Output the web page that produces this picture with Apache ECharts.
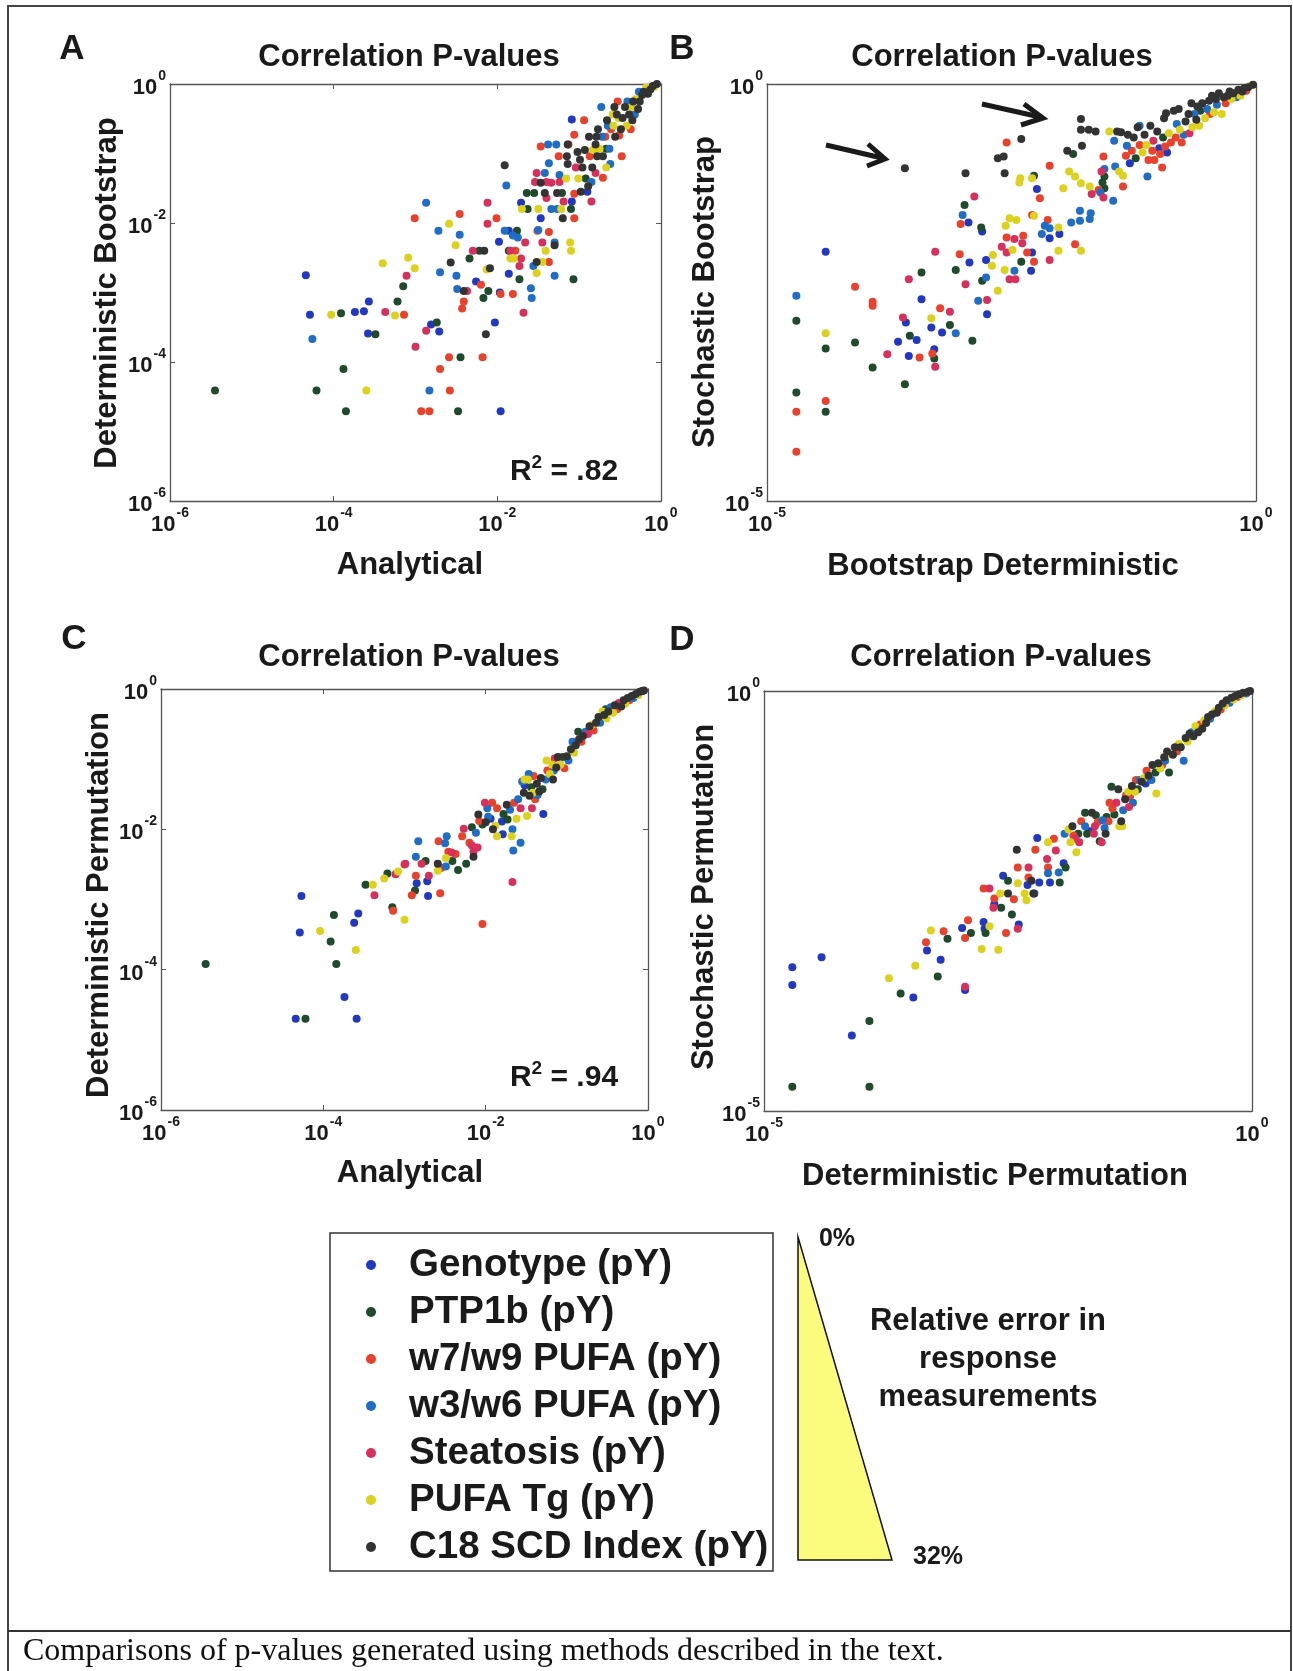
<!DOCTYPE html>
<html><head><meta charset="utf-8">
<script src="https://cdn.jsdelivr.net/npm/echarts@6/dist/echarts.min.js"></script>
<style>html,body{margin:0;padding:0;background:#fff}#c{width:1293px;height:1671px}</style>
</head><body><div id="c"></div>
<script>
// ---- categories / colours ----
const seriesNames = ['Genotype (pY)','PTP1b (pY)','w7/w9 PUFA (pY)','w3/w6 PUFA (pY)','Steatosis (pY)','PUFA Tg (pY)','C18 SCD Index (pY)'];
const seriesColors = ['#2338c0','#1f4a2c','#e8422c','#1f6dc4','#d8305c','#dcd21e','#333333'];
const panelTitles = ['Correlation P-values','Correlation P-values','Correlation P-values','Correlation P-values'];
const xAxisNames = ['Analytical','Bootstrap Deterministic','Analytical','Deterministic Permutation'];
const yAxisNames = ['Deterministic Bootstrap','Stochastic Bootstrap','Deterministic Permutation','Stochastic Permutation'];
const tickExpAC = [-6,-4,-2,0];
const tickExpBD = [-5,0];
const r2Labels = ['.82', null, '.94', null];

// ---- data: [log10(x p-value), log10(y p-value)] ----
// Panel A: Analytical vs Deterministic Bootstrap
const A_genotype = [[-4.34,-2.75],[-4.29,-3.32],[-3.74,-3.28],[-3.63,-3.27],[-3.57,-3.13],[-3.58,-3.59],[-2.81,-3.46],[-2.71,-3.56],[-2.26,-2.84],[-2.03,-3.43],[-1.98,-2.27],[-1.97,-3.00],[-1.96,-4.71],[-1.86,-2.11],[-1.86,-2.73],[-1.71,-1.71],[-1.47,-1.93],[-1.09,-1.69],[-1.09,-0.51],[-0.90,-1.55]];
const A_ptp1b = [[-5.45,-4.41],[-4.21,-4.41],[-3.91,-3.30],[-3.88,-4.10],[-3.85,-4.71],[-3.49,-3.60],[-3.22,-3.13],[-3.15,-2.91],[-2.74,-3.43],[-2.48,-4.71],[-2.45,-3.93],[-2.34,-2.51],[-2.22,-2.40],[-2.17,-3.08],[-2.11,-2.98],[-1.86,-2.40],[-1.76,-2.11],[-1.73,-2.81],[-1.64,-1.57],[-1.63,-1.80],[-1.55,-1.57],[-1.21,-1.57],[-1.10,-1.80],[-1.07,-2.81],[-0.92,-1.36],[-0.67,-0.93]];
const A_w7w9 = [[-3.14,-3.32],[-3.01,-1.93],[-2.93,-4.71],[-2.83,-4.71],[-2.70,-4.10],[-2.59,-3.93],[-2.58,-4.41],[-2.46,-1.87],[-2.41,-3.13],[-2.43,-3.23],[-2.20,-2.89],[-2.18,-3.93],[-2.01,-1.93],[-1.96,-3.02],[-1.81,-3.02],[-1.78,-2.40],[-1.51,-2.11],[-1.47,-0.90],[-1.37,-2.56],[-1.37,-2.13],[-1.25,-1.04],[-1.13,-0.87],[-1.06,-1.93],[-1.06,-0.73],[-1.06,-1.58],[-0.94,-0.52],[-0.87,-1.04],[-0.71,-1.35],[-0.68,-0.76],[-0.61,-0.65],[-0.53,-0.25],[-0.51,-0.74],[-0.48,-1.04],[-0.37,-0.65]];
const A_w3w6 = [[-4.26,-3.67],[-2.87,-1.71],[-2.83,-4.41],[-2.72,-2.11],[-2.70,-2.71],[-2.50,-2.76],[-2.49,-2.95],[-2.46,-2.17],[-1.89,-1.46],[-1.91,-2.11],[-1.81,-2.18],[-1.75,-2.21],[-1.59,-2.94],[-1.58,-3.08],[-1.56,-2.62],[-1.50,-2.10],[-1.42,-1.28],[-1.38,-0.87],[-1.37,-1.14],[-1.34,-1.80],[-1.30,-2.28],[-1.30,-2.76],[-1.28,-0.87],[-1.27,-1.80],[-1.24,-1.31],[-0.85,-1.41],[-0.73,-0.33],[-0.72,-0.76],[-0.65,-0.60],[-0.63,-0.93],[-0.62,-1.15],[-0.41,-0.25],[-0.32,-0.44],[-0.27,-0.11]];
const A_steatosis = [[-3.37,-3.28],[-3.11,-2.76],[-3.00,-3.78],[-2.87,-3.55],[-2.37,-2.98],[-2.30,-2.40],[-2.12,-1.71],[-2.12,-2.01],[-1.84,-2.40],[-1.73,-2.62],[-1.71,-2.51],[-1.68,-3.29],[-1.66,-2.28],[-1.54,-1.41],[-1.52,-1.28],[-1.45,-2.28],[-1.40,-1.41],[-1.40,-1.64],[-1.34,-1.42],[-1.24,-1.41],[-1.19,-1.69],[-1.04,-1.20],[-0.85,-1.69],[-0.80,-1.28]];
const A_pufaTg = [[-4.03,-3.32],[-3.60,-4.41],[-3.40,-2.58],[-3.25,-3.33],[-3.09,-2.50],[-3.01,-2.65],[-2.59,-2.01],[-2.51,-2.32],[-2.13,-2.67],[-1.84,-2.51],[-1.80,-2.51],[-1.70,-1.80],[-1.52,-2.72],[-1.50,-1.80],[-1.45,-2.56],[-1.41,-2.40],[-1.22,-1.80],[-1.16,-1.36],[-1.11,-2.28],[-1.10,-2.40],[-1.01,-1.36],[-0.83,-0.95],[-0.75,-0.93],[-0.67,-1.20],[-0.59,-0.44],[-0.58,-0.60],[-0.52,-0.49],[-0.42,-0.60],[-0.36,-0.33],[-0.31,-0.22],[-0.18,-0.05],[-0.08,-0.04]];
const A_c18 = [[-2.57,-2.57],[-2.41,-2.98],[-2.16,-2.40],[-2.14,-3.60],[-2.09,-2.65],[-1.91,-1.17],[-1.52,-2.56],[-1.47,-1.42],[-1.42,-1.57],[-1.30,-2.32],[-1.27,-1.57],[-1.20,-1.93],[-1.15,-1.04],[-1.14,-0.87],[-1.14,-1.15],[-1.02,-0.98],[-0.99,-1.09],[-0.98,-1.55],[-0.96,-1.20],[-0.93,-0.95],[-0.89,-1.47],[-0.88,-0.76],[-0.84,-1.20],[-0.80,-0.87],[-0.79,-0.76],[-0.78,-1.04],[-0.77,-0.65],[-0.71,-1.04],[-0.66,-0.52],[-0.57,-0.33],[-0.56,-0.76],[-0.54,-0.44],[-0.49,-0.65],[-0.47,-0.49],[-0.44,-0.33],[-0.39,-0.44],[-0.35,-0.52],[-0.34,-0.25],[-0.28,-0.36],[-0.26,-0.25],[-0.23,-0.16],[-0.21,-0.11],[-0.16,-0.14],[-0.13,-0.08],[-0.10,-0.03],[-0.05,0]];

// Panel B: Bootstrap Deterministic vs Stochastic Bootstrap
const B_genotype = [[-4.40,-2.01],[-3.66,-3.09],[-3.58,-2.86],[-3.55,-3.26],[-3.47,-3.07],[-3.42,-2.58],[-3.32,-2.92],[-3.29,-3.18],[-3.21,-2.98],[-2.94,-1.66],[-2.93,-2.14],[-2.80,-1.77],[-2.76,-2.11],[-2.75,-2.76],[-2.30,-2.24],[-2.29,-2.02],[-2.24,-1.26],[-2.11,-1.85],[-2.01,-1.80],[-1.29,-0.95],[-0.99,-0.77],[-0.91,-0.82]];
const B_ptp1b = [[-4.70,-2.84],[-4.70,-3.70],[-4.40,-3.17],[-4.40,-3.93],[-4.10,-3.10],[-3.92,-3.40],[-3.59,-3.60],[-3.54,-3.02],[-3.42,-2.26],[-3.29,-3.29],[-3.13,-2.89],[-3.07,-2.23],[-2.98,-1.45],[-2.90,-3.08],[-2.81,-1.72],[-2.80,-2.36],[-2.40,-2.13],[-2.27,-1.10],[-1.87,-0.84],[-1.57,-1.18],[-1.55,-1.25],[-1.55,-1.11],[-1.23,-0.89],[-0.95,-0.64],[-0.57,-0.32]];
const B_w7w9 = [[-4.70,-3.93],[-4.70,-4.41],[-4.40,-3.80],[-4.10,-2.43],[-3.92,-2.61],[-3.92,-2.66],[-3.44,-3.28],[-3.31,-3.23],[-3.23,-2.69],[-3.03,-2.04],[-3.02,-1.68],[-2.55,-1.84],[-2.55,-0.70],[-2.38,-1.82],[-2.34,-2.02],[-2.29,-1.57],[-2.27,-2.13],[-2.21,-1.37],[-2.13,-1.63],[-2.11,-0.98],[-1.85,-1.92],[-1.61,-1.27],[-1.56,-0.87],[-1.36,-1.23],[-1.33,-0.86],[-1.27,-0.80],[-1.19,-0.73],[-1.10,-0.91],[-1.06,-0.80],[-1.04,-0.91],[-0.98,-0.84],[-0.96,-1.00],[-0.93,-0.75],[-0.87,-0.70],[-0.82,-0.64],[-0.76,-0.70],[-0.47,-0.36],[-0.31,-0.23],[-0.10,-0.08]];
const B_w3w6 = [[-4.70,-2.54],[-3.07,-2.99],[-3.00,-1.57],[-2.84,-2.60],[-2.76,-2.32],[-2.47,-2.24],[-2.19,-1.80],[-2.16,-1.70],[-2.11,-1.73],[-1.89,-1.66],[-1.80,-1.52],[-1.80,-1.64],[-1.69,-1.55],[-1.70,-1.62],[-1.59,-1.30],[-1.55,-1.02],[-1.46,-1.40],[-1.45,-0.68],[-1.44,-0.99],[-1.32,-0.74],[-1.19,-0.50],[-1.11,-1.11],[-0.81,-0.48],[-0.74,-0.61],[-0.63,-0.36],[-0.50,-0.30],[-0.40,-0.25],[-0.20,-0.16]];
const B_steatosis = [[-3.77,-3.24],[-3.61,-2.80],[-3.55,-2.34],[-3.28,-3.39],[-3.28,-2.01],[-3.13,-2.73],[-2.97,-2.40],[-2.88,-1.35],[-2.75,-2.59],[-2.60,-1.95],[-2.55,-2.02],[-2.52,-2.34],[-2.47,-1.86],[-2.46,-2.34],[-2.39,-1.91],[-2.11,-2.11],[-1.68,-1.32],[-1.58,-1.05],[-1.56,-1.36],[-1.05,-0.68],[-0.68,-0.59]];
const B_pufaTg = [[-4.40,-2.99],[-3.32,-2.81],[-2.70,-2.18],[-2.69,-2.05],[-2.64,-2.48],[-2.57,-2.23],[-2.56,-1.70],[-2.52,-1.61],[-2.49,-1.99],[-2.45,-1.63],[-2.42,-1.18],[-2.41,-1.13],[-2.27,-1.58],[-2.29,-1.13],[-2.02,-1.72],[-2.02,-2.00],[-1.97,-1.25],[-1.91,-1.05],[-1.85,-1.11],[-1.79,-1.19],[-1.79,-2.00],[-1.70,-1.23],[-1.50,-0.57],[-1.40,-1.05],[-1.36,-1.10],[-1.16,-0.82],[-1.12,-0.73],[-0.89,-0.59],[-0.78,-0.55],[-0.65,-0.52],[-0.58,-0.50],[-0.52,-0.41],[-0.43,-0.34],[-0.35,-0.36],[-0.25,-0.18],[-0.16,-0.14],[-0.06,-0.02]];
const B_c18 = [[-3.59,-1.01],[-2.97,-1.07],[-2.64,-0.89],[-2.58,-0.87],[-2.57,-1.07],[-2.40,-0.66],[-1.93,-0.80],[-1.79,-0.42],[-1.79,-0.55],[-1.78,-0.74],[-1.71,-0.55],[-1.64,-0.57],[-1.42,-0.57],[-1.38,-0.58],[-1.31,-0.61],[-1.25,-0.64],[-1.21,-0.52],[-1.14,-0.61],[-1.08,-0.50],[-1.01,-0.57],[-0.94,-0.41],[-0.92,-0.35],[-0.84,-0.32],[-0.79,-0.30],[-0.72,-0.45],[-0.69,-0.36],[-0.66,-0.23],[-0.61,-0.43],[-0.60,-0.27],[-0.55,-0.23],[-0.48,-0.20],[-0.45,-0.14],[-0.41,-0.18],[-0.38,-0.11],[-0.33,-0.16],[-0.29,-0.14],[-0.27,-0.09],[-0.23,-0.11],[-0.18,-0.07],[-0.14,-0.09],[-0.12,-0.05],[-0.08,-0.04],[-0.03,-0.01]];

// Panel C: Analytical vs Deterministic Permutation
const C_genotype = [[-4.34,-4.70],[-4.29,-3.47],[-4.27,-2.95],[-3.74,-4.39],[-3.62,-3.33],[-3.59,-4.70],[-3.57,-3.20],[-2.85,-2.77],[-2.72,-2.74],[-2.71,-2.95],[-1.94,-1.85],[-1.80,-1.89],[-1.79,-2.07],[-1.52,-1.37],[-1.29,-1.78]];
const C_ptp1b = [[-5.45,-3.92],[-4.22,-4.70],[-3.91,-3.60],[-3.87,-3.22],[-3.84,-3.92],[-3.48,-2.79],[-3.21,-2.63],[-3.15,-3.11],[-2.87,-2.87],[-2.74,-2.45],[-2.41,-2.45],[-2.34,-2.58],[-2.24,-2.49],[-2.17,-1.97],[-2.04,-1.93],[-1.78,-1.78],[-1.73,-1.86],[-1.44,-1.40],[-1.30,-1.43],[-1.05,-0.97],[-0.86,-0.61],[-0.52,-0.29]];
const C_w7w9 = [[-3.14,-3.16],[-3.00,-2.50],[-2.91,-2.94],[-2.86,-2.66],[-2.58,-2.17],[-2.56,-2.91],[-2.55,-2.55],[-2.46,-2.32],[-2.37,-2.35],[-2.29,-2.10],[-2.20,-2.19],[-2.08,-1.88],[-2.04,-3.35],[-1.92,-1.62],[-1.86,-1.70],[-1.65,-1.62],[-1.41,-1.24],[-1.39,-1.57],[-1.24,-1.16],[-1.03,-1.13],[-0.82,-0.75],[-0.67,-0.59],[-0.38,-0.29],[-0.23,-0.16]];
const C_w3w6 = [[-2.86,-2.39],[-2.83,-2.17],[-2.50,-2.20],[-2.49,-2.53],[-2.48,-2.10],[-2.12,-2.05],[-1.98,-1.70],[-1.97,-1.82],[-1.70,-1.72],[-1.67,-2.00],[-1.66,-2.30],[-1.60,-1.57],[-1.57,-2.19],[-1.55,-1.32],[-1.47,-1.21],[-1.36,-1.51],[-1.26,-1.29],[-1.16,-1.16],[-0.98,-1.02],[-0.93,-0.75],[-0.77,-0.61],[-0.59,-0.48],[-0.46,-0.26],[-0.18,-0.13]];
const C_steatosis = [[-3.37,-2.94],[-3.11,-2.64],[-2.99,-2.49],[-2.79,-2.49],[-2.70,-2.66],[-2.42,-2.33],[-2.27,-1.99],[-2.17,-2.23],[-2.15,-2.32],[-2.10,-2.26],[-2.01,-1.62],[-1.67,-2.75],[-1.57,-1.70],[-1.43,-1.70],[-1.15,-0.99],[-0.74,-0.64],[-0.36,-0.20]];
const C_pufaTg = [[-4.04,-3.45],[-3.60,-3.72],[-3.39,-2.79],[-3.25,-2.70],[-3.08,-2.60],[-3.00,-3.29],[-2.59,-2.59],[-2.49,-2.41],[-1.88,-1.95],[-1.86,-2.10],[-1.68,-2.10],[-1.62,-1.85],[-1.52,-1.29],[-1.49,-1.81],[-1.48,-1.29],[-1.42,-1.48],[-1.25,-1.02],[-1.21,-1.21],[-1.18,-1.08],[-1.08,-1.08],[-0.91,-0.91],[-0.69,-0.51],[-0.56,-0.32],[-0.51,-0.42],[-0.43,-0.34],[-0.28,-0.21],[-0.12,-0.09]];
const C_c18 = [[-2.59,-2.49],[-2.15,-2.39],[-2.09,-1.79],[-2.00,-1.90],[-1.91,-2.00],[-1.74,-1.65],[-1.53,-1.48],[-1.46,-1.52],[-1.37,-1.35],[-1.34,-1.46],[-1.32,-1.27],[-1.17,-1.29],[-1.13,-1.12],[-1.11,-0.97],[-1.00,-0.96],[-0.95,-0.86],[-0.89,-0.80],[-0.85,-0.72],[-0.80,-0.67],[-0.72,-0.53],[-0.64,-0.48],[-0.61,-0.40],[-0.54,-0.37],[-0.49,-0.32],[-0.41,-0.23],[-0.33,-0.25],[-0.30,-0.16],[-0.25,-0.13],[-0.20,-0.10],[-0.15,-0.07],[-0.10,-0.04],[-0.07,-0.03],[-0.05,-0.02]];

// Panel D: Deterministic Permutation vs Stochastic Permutation
const D_genotype = [[-4.71,-3.29],[-4.71,-3.50],[-4.41,-3.17],[-4.10,-4.10],[-3.47,-3.65],[-3.33,-3.09],[-3.19,-3.20],[-2.97,-2.82],[-2.94,-3.56],[-2.75,-2.75],[-2.74,-2.83],[-2.64,-2.54],[-2.55,-2.20],[-2.39,-2.78],[-2.30,-2.31],[-2.23,-2.41],[-2.20,-1.75],[-2.18,-2.28],[-2.07,-2.28],[-1.93,-2.05],[-1.66,-1.67],[-1.09,-1.10]];
const D_ptp1b = [[-4.71,-4.71],[-3.92,-3.93],[-3.92,-4.71],[-3.60,-3.60],[-3.22,-3.40],[-3.12,-2.95],[-2.88,-2.88],[-2.73,-2.88],[-2.57,-2.58],[-2.50,-2.26],[-2.46,-2.66],[-1.97,-2.28],[-1.91,-2.10],[-1.78,-1.70],[-1.71,-1.45],[-1.69,-1.70],[-1.60,-1.48],[-1.56,-1.79],[-1.49,-1.50],[-1.44,-1.14],[-1.41,-1.47],[-1.17,-1.17],[-0.99,-0.97],[-0.85,-0.97]];
const D_w7w9 = [[-3.34,-2.99],[-3.16,-2.86],[-2.94,-2.94],[-2.91,-2.73],[-2.75,-2.35],[-2.64,-2.47],[-2.52,-2.88],[-2.44,-2.48],[-2.40,-2.10],[-2.29,-2.22],[-2.22,-1.89],[-2.09,-2.10],[-2.03,-1.76],[-1.83,-1.72],[-1.75,-1.55],[-1.58,-1.56],[-1.47,-1.55],[-1.46,-1.33],[-1.43,-1.40],[-1.29,-1.24],[-1.25,-1.26],[-1.19,-1.06],[-1.08,-0.95],[-0.92,-0.88],[-0.77,-0.72],[-0.53,-0.40],[-0.32,-0.22],[-0.15,-0.07]];
const D_w3w6 = [[-2.09,-2.17],[-1.98,-2.16],[-1.92,-1.70],[-1.71,-1.61],[-1.53,-1.54],[-1.51,-1.63],[-1.32,-1.42],[-1.22,-1.33],[-1.15,-1.06],[-1.03,-1.06],[-0.89,-0.83],[-0.70,-0.83],[-0.62,-0.49],[-0.43,-0.33],[-0.23,-0.14],[-0.06,-0.03]];
const D_steatosis = [[-2.94,-3.52],[-2.69,-2.35],[-2.65,-2.58],[-2.40,-2.83],[-2.29,-2.10],[-2.10,-2.00],[-2.01,-1.90],[-1.81,-1.76],[-1.77,-1.80],[-1.62,-1.70],[-1.61,-1.61],[-1.54,-1.80],[-1.39,-1.33],[-1.26,-1.38]];
const D_pufaTg = [[-3.72,-3.42],[-3.45,-3.27],[-3.29,-2.85],[-2.77,-3.07],[-2.69,-2.80],[-2.60,-3.08],[-2.58,-2.41],[-2.40,-2.29],[-2.33,-2.41],[-2.31,-2.49],[-2.09,-1.80],[-1.88,-1.65],[-1.86,-1.80],[-1.80,-1.92],[-1.36,-1.61],[-1.33,-1.61],[-1.27,-1.20],[-1.20,-1.20],[-1.11,-1.04],[-0.98,-1.22],[-0.94,-0.92],[-0.83,-0.75],[-0.75,-0.63],[-0.66,-0.60],[-0.58,-0.42],[-0.49,-0.35],[-0.38,-0.24],[-0.28,-0.17],[-0.19,-0.10],[-0.11,-0.05]];
const D_c18 = [[-2.50,-2.41],[-2.41,-1.89],[-2.26,-2.26],[-2.24,-2.41],[-1.84,-1.61],[-1.64,-1.45],[-1.50,-1.70],[-1.37,-1.17],[-1.34,-1.55],[-1.30,-1.29],[-1.23,-1.13],[-1.13,-1.08],[-1.06,-1.01],[-1.02,-0.88],[-0.96,-0.86],[-0.90,-0.79],[-0.87,-0.72],[-0.81,-0.76],[-0.79,-0.67],[-0.73,-0.67],[-0.68,-0.56],[-0.64,-0.51],[-0.60,-0.54],[-0.55,-0.49],[-0.51,-0.45],[-0.47,-0.38],[-0.45,-0.31],[-0.41,-0.28],[-0.36,-0.26],[-0.34,-0.20],[-0.30,-0.15],[-0.26,-0.11],[-0.21,-0.08],[-0.17,-0.06],[-0.13,-0.04],[-0.09,-0.02],[-0.04,-0.01],[-0.02,0]];

const panelData = [
  [A_genotype, A_ptp1b, A_w7w9, A_w3w6, A_steatosis, A_pufaTg, A_c18],
  [B_genotype, B_ptp1b, B_w7w9, B_w3w6, B_steatosis, B_pufaTg, B_c18],
  [C_genotype, C_ptp1b, C_w7w9, C_w3w6, C_steatosis, C_pufaTg, C_c18],
  [D_genotype, D_ptp1b, D_w7w9, D_w3w6, D_steatosis, D_pufaTg, D_c18]
];

// ---- layout ----
const FONT = '"Liberation Sans", Arial, Helvetica, sans-serif';
const grids = [
  {left: 170, top: 84, width: 491, height: 417},
  {left: 767, top: 84, width: 489, height: 417},
  {left: 161, top: 689, width: 487, height: 421},
  {left: 764, top: 691, width: 488, height: 420}
];
const panelLetters = ['A','B','C','D'];
const letterPos = [[57,49],[667,49],[59,639],[667,640]];
const titlePos = [[409,57],[1002,57],[409,657],[1001,657]];
const xNamePos = [[410,565],[1003,566],[410,1173],[995,1176]];
const yNamePos = [[107,293],[705,292],[99,905],[704,897]];
const r2Pos = [[564,470],null,[564,1076],null];

const tickRich = {
  b: {fontSize: 22, fontWeight: 'bold', fontFamily: FONT, color: '#1a1a1a', verticalAlign: 'bottom', lineHeight: 30},
  s: {fontSize: 14, fontWeight: 'bold', fontFamily: FONT, color: '#1a1a1a', verticalAlign: 'top', lineHeight: 30, padding: [0, 0, 0, 1]}
};
function fmt(v) {
  const e = Math.round(Math.log10(v));
  return '{b|10}{s|' + e + '}';
}
const axisLineStyle = {color: '#555', width: 1.3};

const xAxes = [], yAxes = [];
grids.forEach((g, gi) => {
  const ac = (gi === 0 || gi === 2);
  const exps = ac ? tickExpAC : tickExpBD;
  const mn = Math.pow(10, exps[0]);
  const iv = exps[1] - exps[0];
  const common = {gridIndex: gi, type: 'log', logBase: 10, min: mn, max: 1, interval: iv,
    splitLine: {show: false}, axisLine: {show: true, lineStyle: axisLineStyle},
    axisTick: {show: true, inside: true, length: 5, lineStyle: {color: '#555', width: 1}}};
  xAxes.push(Object.assign({}, common, {position: 'bottom',
    axisLabel: {show: true, formatter: fmt, rich: tickRich, margin: 5}}));
  xAxes.push(Object.assign({}, common, {position: 'top', axisLabel: {show: false}}));
  yAxes.push(Object.assign({}, common, {position: 'left',
    axisLabel: {show: true, formatter: fmt, rich: tickRich, margin: 4}}));
  yAxes.push(Object.assign({}, common, {position: 'right', axisLabel: {show: false}}));
});

const series = [];
panelData.forEach((cats, gi) => {
  cats.forEach((pts, ci) => {
    series.push({
      type: 'scatter', name: seriesNames[ci],
      xAxisIndex: gi * 2, yAxisIndex: gi * 2,
      symbol: 'circle', symbolSize: 8,
      itemStyle: {color: seriesColors[ci], opacity: 1},
      silent: true,
      data: pts.map(p => [Math.pow(10, p[0]), Math.pow(10, p[1])])
    });
  });
});

// ---- decorations ----
const graphics = [];
const txt = (x, y, text, font, extra) => Object.assign({type: 'text', x: x, y: y, z: 10,
  style: {text: text, font: font, fill: '#1a1a1a', align: 'center', verticalAlign: 'middle'}}, extra || {});
// frame
graphics.push({type: 'polyline', z: 5, shape: {points: [[8, 1671], [8, 6], [1291, 6], [1291, 1671]]}, style: {stroke: '#444', lineWidth: 2, fill: null}});
graphics.push({type: 'line', z: 5, shape: {x1: 8, y1: 1631, x2: 1291, y2: 1631}, style: {stroke: '#333', lineWidth: 2}});
grids.forEach((g, i) => {
  graphics.push(txt(letterPos[i][0] + 15, letterPos[i][1], panelLetters[i], 'bold 35px ' + FONT));
  graphics.push(txt(titlePos[i][0], titlePos[i][1], panelTitles[i], 'bold 31px ' + FONT));
  graphics.push(txt(xNamePos[i][0], xNamePos[i][1], xAxisNames[i], 'bold 31px ' + FONT));
  graphics.push(txt(yNamePos[i][0], yNamePos[i][1], yAxisNames[i], 'bold 31px ' + FONT, {rotation: Math.PI / 2}));
  if (r2Labels[i]) {
    graphics.push({type: 'text', x: r2Pos[i][0], y: r2Pos[i][1], z: 10, style: {
      text: '{b|R}{s|2}{b| = ' + r2Labels[i] + '}', align: 'center', verticalAlign: 'middle',
      rich: {
        b: {font: 'bold 30px ' + FONT, fill: '#1a1a1a', verticalAlign: 'bottom', lineHeight: 34},
        s: {font: 'bold 19px ' + FONT, fill: '#1a1a1a', verticalAlign: 'top', lineHeight: 34}
      }}});
  }
});
// arrows in panel B
const arrows = [
  {tail: [826, 145], tip: [885, 159], b1: [868, 144], b2: [867, 166]},
  {tail: [982, 104], tip: [1043, 118], b1: [1024, 104], b2: [1021, 125]}
];
arrows.forEach(a => {
  graphics.push({type: 'line', z: 10, shape: {x1: a.tail[0], y1: a.tail[1], x2: a.tip[0] - 3, y2: a.tip[1] - 1}, style: {stroke: '#1a1a1a', lineWidth: 5}});
  graphics.push({type: 'polyline', z: 10, shape: {points: [a.b1, a.tip, a.b2]}, style: {stroke: '#1a1a1a', lineWidth: 5, fill: null, lineJoin: 'miter'}});
});
// legend frame
graphics.push({type: 'rect', z: 5, shape: {x: 330, y: 1233, width: 443, height: 338}, style: {stroke: '#333', lineWidth: 1.5, fill: null}});
// error triangle
graphics.push({type: 'polygon', z: 5, shape: {points: [[798, 1237], [798, 1560], [892, 1560]]}, style: {fill: '#fbfb7e', stroke: '#111', lineWidth: 1.5}});
graphics.push(txt(837, 1239, '0%', 'bold 25px ' + FONT));
graphics.push(txt(938, 1557, '32%', 'bold 25px ' + FONT));
graphics.push(txt(988, 1321, 'Relative error in', 'bold 31px ' + FONT));
graphics.push(txt(988, 1359, 'response', 'bold 31px ' + FONT));
graphics.push(txt(988, 1397, 'measurements', 'bold 31px ' + FONT));
// caption
graphics.push({type: 'text', x: 23, y: 1652, z: 10, style: {text: 'Comparisons of p-values generated using methods described in the text.',
  font: '32px "Liberation Serif", "Times New Roman", serif', fill: '#111', align: 'left', verticalAlign: 'middle'}});

const chart = echarts.init(document.getElementById('c'), null, {renderer: 'canvas'});
chart.setOption({
  animation: false,
  backgroundColor: '#fff',
  textStyle: {fontFamily: FONT},
  grid: grids,
  xAxis: xAxes,
  yAxis: yAxes,
  legend: {
    data: seriesNames, orient: 'vertical', left: 366, top: 1245, padding: 0,
    icon: 'circle', itemWidth: 66, itemHeight: 10, itemGap: 7, selectedMode: false,
    textStyle: {fontSize: 38.5, fontWeight: 'bold', fontFamily: FONT, color: '#1a1a1a', lineHeight: 40}
  },
  series: series,
  graphic: graphics
});
</script></body></html>
